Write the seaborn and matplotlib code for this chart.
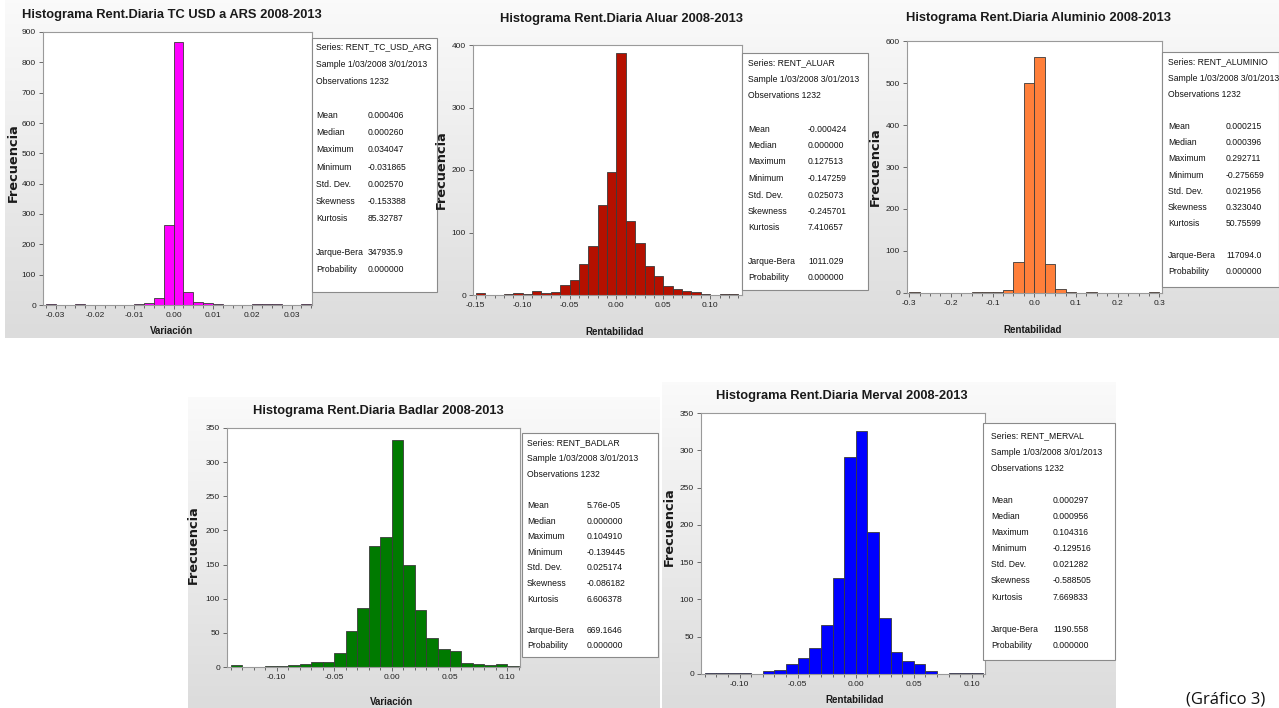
import numpy as np
import pandas as pd
import matplotlib
matplotlib.use("Agg")
import matplotlib.pyplot as plt
import seaborn as sns
from matplotlib.patches import Rectangle
from matplotlib.colors import LinearSegmentedColormap
from matplotlib.ticker import MultipleLocator, FuncFormatter

sns.set_theme(style="white")
plt.rcParams['font.family'] = ['Liberation Sans', 'DejaVu Sans']

W, H = 1279, 708

# --- datos (frecuencias por intervalo) ---
tc_counts = [3, 0, 0, 2, 0, 0, 0, 0, 0, 3, 8, 22, 264, 868, 42, 11, 5, 2, 0, 0, 0, 2, 2, 2, 0, 0, 2]
tc_start, tc_width = -0.0325, 0.0025

aluar_counts = [3, 0, 0, 2, 3, 2, 7, 4, 5, 16, 24, 49, 79, 144, 197, 388, 118, 83, 46, 30, 15, 9, 6, 5, 2, 0, 2, 2]
aluar_start, aluar_width = -0.15, 0.01

alum_counts = [2, 0, 0, 0, 0, 0, 2, 2, 2, 7, 73, 501, 562, 69, 10, 3, 0, 2, 0, 0, 0, 0, 0, 2]
alum_start, alum_width = -0.30, 0.025

badlar_counts = [3, 0, 0, 2, 2, 3, 5, 8, 8, 20, 52, 87, 177, 191, 332, 150, 83, 42, 27, 23, 6, 5, 3, 5, 2]
badlar_start, badlar_width = -0.14, 0.01

merval_counts = [1, 2, 1, 1, 0, 4, 5, 13, 21, 35, 66, 129, 291, 326, 191, 75, 30, 18, 14, 4, 0, 1, 1, 1]
merval_start, merval_width = -0.13, 0.01

stat_names = ["Mean", "Median", "Maximum", "Minimum", "Std. Dev.", "Skewness", "Kurtosis"]
tc_stats = ["0.000406", "0.000260", "0.034047", "-0.031865", "0.002570", "-0.153388", "85.32787", "347935.9", "0.000000"]
aluar_stats = ["-0.000424", "0.000000", "0.127513", "-0.147259", "0.025073", "-0.245701", "7.410657", "1011.029", "0.000000"]
alum_stats = ["0.000215", "0.000396", "0.292711", "-0.275659", "0.021956", "0.323040", "50.75599", "117094.0", "0.000000"]
badlar_stats = ["5.76e-05", "0.000000", "0.104910", "-0.139445", "0.025174", "-0.086182", "6.606378", "669.1646", "0.000000"]
merval_stats = ["0.000297", "0.000956", "0.104316", "-0.129516", "0.021282", "-0.588505", "7.669833", "1190.558", "0.000000"]

fig = plt.figure(figsize=(W / 100, H / 100), dpi=100)
fig.patch.set_facecolor("white")

grad = LinearSegmentedColormap.from_list("g", ["#fafafa", "#dcdcdc"])


def rect(l, t, r, b):
    return [l / W, 1 - b / H, (r - l) / W, (b - t) / H]


def fx(x):
    return x / W


def fy(y):
    return 1 - y / H


def panel(p):
    bg = fig.add_axes(rect(*p["bg"]), zorder=0)
    bg.imshow(np.linspace(0, 1, 100).reshape(-1, 1), aspect="auto", cmap=grad,
              extent=[0, 1, 0, 1])
    bg.axis("off")

    ax = fig.add_axes(rect(*p["plot"]), zorder=2)
    ax.set_facecolor("white")
    counts = p["counts"]
    edges = [p["start"] + p["width"] * i for i in range(len(counts) + 1)]
    df = pd.DataFrame({"mid": [e + p["width"] / 2 for e in edges[:-1]], "n": counts})
    sns.histplot(data=df, x="mid", weights="n", bins=edges, ax=ax,
                 color=p["color"], alpha=1, edgecolor="#3a3a3a", linewidth=0.6)
    ax.set_xlim(p["xlim"])
    ax.set_ylim(0, p["ymax"])
    ax.set_xlabel("")
    ax.set_ylabel("")
    ax.xaxis.set_major_locator(MultipleLocator(p["xmajor"]))
    ax.xaxis.set_minor_locator(MultipleLocator(p["xminor"]))
    ax.yaxis.set_major_locator(MultipleLocator(p["ymajor"]))
    ax.xaxis.set_major_formatter(FuncFormatter(lambda v, _: p["fmt"].format(v + 0.0)))
    ax.tick_params(axis="both", which="both", direction="out", labelsize=6,
                   colors="#555555", labelcolor="#222222", bottom=True, left=True,
                   pad=2)
    ax.tick_params(axis="both", which="major", length=3, width=0.6)
    ax.tick_params(axis="x", which="minor", length=2.5, width=0.6)
    for s in ax.spines.values():
        s.set_color("#9a9a9a")
        s.set_linewidth(0.8)

    tx, ty = p["title"]
    fig.text(fx(tx), fy(ty), p["title_text"], ha="center", va="center",
             fontsize=9.3, fontweight="bold", color="#1a1a1a")
    lx, ly = p["xlab"]
    fig.text(fx(lx), fy(ly), p["xlab_text"], ha="center", va="center",
             fontsize=7, fontweight="bold", color="#1a1a1a")
    yx, yy = p["ylab"]
    fig.text(fx(yx), fy(yy), "Frecuencia", ha="center", va="center", rotation=90,
             fontsize=9.3, fontweight="bold", color="#1a1a1a",
             family=["DejaVu Sans"])

    l, t, r, b = p["box"]
    fig.add_artist(Rectangle((fx(l), fy(b)), (r - l) / W, (b - t) / H,
                             transform=fig.transFigure, facecolor="white",
                             edgecolor="#8a8a8a", linewidth=0.8, zorder=3))
    y0, step = p["lines"]
    c1, c2 = p["cols"]
    head = ["Series: " + p["series"], "Sample 1/03/2008 3/01/2013", "Observations 1232"]
    for i, h in enumerate(head):
        fig.text(fx(c1), fy(y0 + i * step), h, ha="left", va="center",
                 fontsize=6.2, color="#111111", zorder=4)
    names = stat_names + ["Jarque-Bera", "Probability"]
    rows = [4, 5, 6, 7, 8, 9, 10, 12, 13]
    for n, v, rw in zip(names, p["stats"], rows):
        fig.text(fx(c1), fy(y0 + rw * step), n, ha="left", va="center",
                 fontsize=6.2, color="#111111", zorder=4)
        fig.text(fx(c2), fy(y0 + rw * step), v, ha="left", va="center",
                 fontsize=6.2, color="#111111", zorder=4)


panels = [
    dict(bg=(5, 0, 440, 338), plot=(43, 32, 312, 305), counts=tc_counts, start=tc_start,
         width=tc_width, color="#ff00ff", xlim=(-0.0332, 0.0352), ymax=900,
         xmajor=0.01, xminor=0.0025, ymajor=100, fmt="{:.2f}",
         title=(172, 15), title_text="Histograma Rent.Diaria TC USD a ARS 2008-2013",
         xlab=(172, 331), xlab_text="Variación", ylab=(13, 163),
         box=(312, 38, 437, 292), lines=(47, 17.15), cols=(316, 368),
         series="RENT_TC_USD_ARG", stats=tc_stats),
    dict(bg=(440, 0, 870, 338), plot=(473, 45, 742, 295), counts=aluar_counts,
         start=aluar_start, width=aluar_width, color="#b51000", xlim=(-0.153, 0.134),
         ymax=400, xmajor=0.05, xminor=0.01, ymajor=100, fmt="{:.2f}",
         title=(622, 19), title_text="Histograma Rent.Diaria Aluar 2008-2013",
         xlab=(615, 332), xlab_text="Rentabilidad", ylab=(441, 170),
         box=(742, 53, 868, 290), lines=(63, 16.5), cols=(748, 808),
         series="RENT_ALUAR", stats=aluar_stats),
    dict(bg=(870, 0, 1279, 338), plot=(907, 41, 1162, 293), counts=alum_counts,
         start=alum_start, width=alum_width, color="#ff7f3a", xlim=(-0.305, 0.306),
         ymax=600, xmajor=0.1, xminor=0.025, ymajor=100, fmt="{:.1f}",
         title=(1038, 18), title_text="Histograma Rent.Diaria Aluminio 2008-2013",
         xlab=(1033, 330), xlab_text="Rentabilidad", ylab=(875, 167),
         box=(1162, 52, 1279, 287), lines=(62, 16.15), cols=(1168, 1226),
         series="RENT_ALUMINIO", stats=alum_stats),
    dict(bg=(188, 397, 660, 708), plot=(227, 428, 520, 667), counts=badlar_counts,
         start=badlar_start, width=badlar_width, color="#007a00", xlim=(-0.1432, 0.1112),
         ymax=350, xmajor=0.05, xminor=0.01, ymajor=50, fmt="{:.2f}",
         title=(378, 411), title_text="Histograma Rent.Diaria Badlar 2008-2013",
         xlab=(392, 702), xlab_text="Variación", ylab=(193, 545),
         box=(522, 433, 658, 657), lines=(443, 15.6), cols=(527, 587),
         series="RENT_BADLAR", stats=badlar_stats),
    dict(bg=(662, 382, 1115, 708), plot=(701, 413, 985, 674), counts=merval_counts,
         start=merval_start, width=merval_width, color="#0000ff", xlim=(-0.1333, 0.1113),
         ymax=350, xmajor=0.05, xminor=0.01, ymajor=50, fmt="{:.2f}",
         title=(842, 396), title_text="Histograma Rent.Diaria Merval 2008-2013",
         xlab=(855, 700), xlab_text="Rentabilidad", ylab=(669, 527),
         box=(983, 423, 1115, 660), lines=(436, 16.1), cols=(991, 1053),
         series="RENT_MERVAL", stats=merval_stats),
]

for p in panels:
    panel(p)

fig.text(fx(1226), fy(703), "(Gráfico 3)", ha="center", va="baseline", fontsize=12,
         color="#111111", family=["Open Sans", "DejaVu Sans"])

fig.savefig("out.png", dpi=100)
